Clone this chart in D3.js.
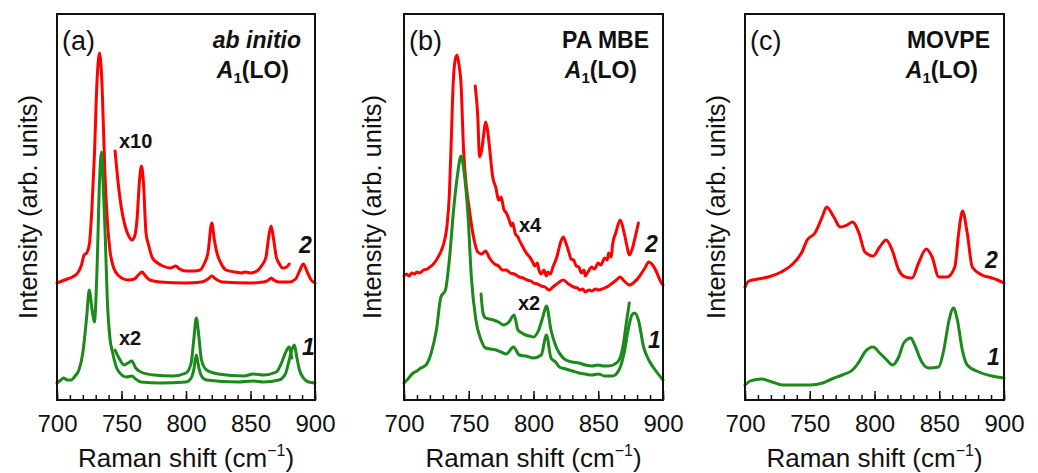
<!DOCTYPE html>
<html>
<head>
<meta charset="utf-8">
<script src="https://cdn.jsdelivr.net/npm/d3@7"></script>
<style>
  html, body { margin: 0; padding: 0; background: #fff; }
  svg { display: block; font-family: "Liberation Sans", Arial, sans-serif; }
</style>
</head>
<body>
<svg id="chart" width="1038" height="473"></svg>
<script>
// ---------------- DATA (Raman shift cm^-1, intensity arb. units) ----------------
const xTickLabels = [700, 750, 800, 850, 900];
const xMinorTicks = d3.range(700, 901, 10);
const xDomain = [700, 900];
const yDomain = [0, 386];

// Panel (a) ab initio
const aRed2 = [[700,117],[704,119],[708,121],[712,123],[716,127],[719,135],[721,145],[723,147],[725,155],[727,190],[729,245],[731,318],[733,347],[735,312],[737,232],[739,180],[741,150],[744,132],[748,124],[755,120],[760,121],[763,125],[766,128],[768,125],[772,120],[780,118],[800,117],[812,118],[817,121],[820,124],[823,121],[828,118],[850,117],[860,118],[864,120],[866,122],[868,120],[872,118],[880,118],[885,121],[888,129],[891,136],[894,128],[897,120],[900,117]];
const aRed2x10 = [[745,249],[747,222],[749,200],[753,173],[756,163],[758,160],[760,163],[762,180],[764,220],[765.5,234],[767,218],[769,167],[771,155],[774,142],[778,137],[782,134],[788,132],[792,134],[795,131],[800,129],[806,129],[811,130],[814,136],[817,147],[820,177],[822,160],[824,147],[827,137],[831,130],[838,128],[843,127],[846,128],[850,127],[856,130],[859,135],[862,143],[864,162],[866,174],[868,160],[870,143],[872,137],[875,132],[878,133],[880,136]];
const aGreen1 = [[700,17],[703,20],[705,22],[708,20],[711,20],[714,24],[717,30],[720,47],[723,83],[725,110],[727,92],[729,78],[731,130],[733,220],[734.5,248],[736,210],[737.5,160],[739,100],[741,62],[743,48],[747,30],[754,23],[758,24],[761,21],[765,18],[780,17],[800,18],[804,22],[806,30],[808,45],[810,32],[812,24],[816,20],[840,18],[852,19],[860,18],[872,20],[877,26],[880,40],[882,50],[884,55],[886,42],[888,30],[891,22],[895,18],[900,17]];
const aGreen1x2 = [[745,50],[748,42],[752,35],[755,37],[758,39],[761,32],[765,28],[775,25],[790,24],[800,27],[804,37],[806,60],[808,82],[810,63],[812,40],[816,30],[825,26],[845,24],[852,26],[860,25],[870,28],[874,37],[877,47],[880,53],[882,42]];

// Panel (b) PA MBE
const bRed2 = [[700,124],[702,126],[704,124],[706,127],[708,126],[710,128],[712,127],[715,130],[718,131],[720,133],[722,135],[725,140],[729,150],[731,158],[733,172],[735,205],[736.5,260],[738,317],[739.5,340],[741,345],[742.5,335],[744,317],[746,250],[748,215],[750,195],[753,168],[757,148],[760,146],[763,149],[766,142],[770,136],[773,134],[776,130],[779,130],[782,127],[785,126],[789,123],[792,122],[795,120],[798,119],[800,117],[803,116],[806,114],[809,113],[812,110],[815,113],[818,116],[823,120],[827,116],[831,113],[834,112],[836,110],[838,111],[840,108],[843,110],[845,109],[848,111],[850,110],[853,111],[855,112],[858,114],[860,116],[864,120],[867,123],[870,119],[874,115],[878,118],[882,124],[886,132],[889,138],[892,135],[895,128],[898,119],[900,115]];
const bRed2x4 = [[755,314],[757,283],[758.3,243],[760,250],[761.5,265],[763,278],[764.5,270],[766,253],[768.5,223],[771,212],[773,200],[775,203],[777,191],[779,187],[781,181],[783,174],[784,177],[786,166],[788,163],[789,160],[791,155],[793,150],[795,146],[797,143],[799,139],[801,134],[803,137],[804,131],[806,126],[808,130],[810,124],[811,128],[813,126],[815,133],[818,143],[821,158],[823,163],[825,157],[827.5,147],[829,141],[831,140],[833,134],[835,133],[837,127],[839,130],[840,124],[842,128],[845,133],[847,131],[850,137],[852,135],[855,142],[857,140],[858,147],[860,143],[861,155],[863.5,167],[867,180],[870,167],[872,155],[874,145],[876,150],[878,160],[881,177]];
const bGreen1 = [[700,17],[703,21],[707,27],[710,29],[713,32],[717,35],[721,47],[725,70],[728.5,103],[732,110],[735,140],[738.5,193],[741.5,227],[744,244],[746.5,227],[749.5,183],[752,123],[755.5,80],[759.5,60],[763,52],[767,51],[771,50],[775,48],[779,46],[784.5,53],[789,45],[794,44],[800,42],[806,45],[810,65],[813.5,42],[817,38],[820,33],[825,31],[830,29],[835,27],[840,26],[845,25],[850,26],[855,24],[861,24],[866,30],[870,47],[873.5,73],[876,85],[878,87],[881,80],[885,53],[889,40],[894,30],[900,20]];
const bGreen1x2 = [[759.5,106],[761,87],[763,82],[766,81],[769,80],[773,78],[777,75],[781,78],[785,85],[788,70],[791,67],[794,65],[797,64],[800,63],[804,70],[807,82],[810,94],[813.5,70],[817.5,53],[821,45],[825,40],[830,38],[835,37],[840,35],[845,34],[850,35],[854,34],[858,34],[865,38],[869,53],[872,80],[874,97]];

// Panel (c) MOVPE
const cRed2 = [[700,113],[703,119],[710,121],[718,123],[728,128],[736,135],[744,148],[748,160],[754,167],[759.6,183],[763,193],[768.6,183],[773.5,173],[778.8,175],[783,178],[788,167],[792.6,148],[799,144],[804,153],[809,160],[813.6,150],[818.7,130],[823.9,123],[829,122],[834,137],[840,151],[844.5,143],[849.6,123],[856,123],[862,133],[865,167],[868,189],[871.6,167],[875.5,133],[883,125],[890.7,122],[895,120],[900,117]];
const cGreen1 = [[700,15],[704,19],[707,20],[713,21],[721,18],[729,15],[740,15],[750,15],[760,17],[767,21],[775,25],[783,30],[788,38],[792.6,48],[799,53],[804,47],[809.5,40],[814,35],[818.7,43],[822.6,57],[828,62],[831,55],[836.5,38],[842,32],[849.6,33],[853.5,50],[857.6,80],[861,92],[864,80],[867.8,50],[871.6,35],[880.6,28],[890.7,24],[900,22]];

// ---------------- LAYOUT / STYLE ----------------
const RED = "#ff0000", GREEN = "#1a8a1a";
const plotTop = 14, plotBottom = 400;
const panels = [
  { left: 57, right: 315, yLabelX: 37, tag: "(a)", title: "ab initio", titleItalic: true,
    series: [[aRed2, RED], [aRed2x10, RED], [aGreen1, GREEN], [aGreen1x2, GREEN]],
    notes: [["x10", 119, 148], ["x2", 119, 345]],
    nums: [["2", 299, 253], ["1", 302, 355]] },
  { left: 404, right: 663, yLabelX: 381, tag: "(b)", title: "PA MBE", titleItalic: false,
    series: [[bRed2, RED], [bRed2x4, RED], [bGreen1, GREEN], [bGreen1x2, GREEN]],
    notes: [["x4", 519, 232], ["x2", 518, 310]],
    nums: [["2", 645, 252], ["1", 648, 348]] },
  { left: 745, right: 1004, yLabelX: 725, tag: "(c)", title: "MOVPE", titleItalic: false,
    series: [[cRed2, RED], [cGreen1, GREEN]],
    notes: [],
    nums: [["2", 985, 268], ["1", 987, 365]] }
];

const svg = d3.select("#chart");

panels.forEach(p => {
  const x = d3.scaleLinear().domain(xDomain).range([p.left, p.right]);
  const y = d3.scaleLinear().domain(yDomain).range([plotBottom, plotTop]);
  const g = svg.append("g");

  // curves
  const line = d3.line().x(d => x(d[0])).y(d => y(d[1])).curve(d3.curveMonotoneX);
  p.series.forEach(([data, color]) => {
    g.append("path").datum(data)
      .attr("d", line)
      .attr("fill", "none")
      .attr("stroke", color)
      .attr("stroke-width", 3)
      .attr("stroke-linejoin", "round")
      .attr("stroke-linecap", "round");
  });

  // minor ticks
  const minor = g.append("g").attr("transform", `translate(0,${plotBottom})`)
    .call(d3.axisBottom(x).tickValues(xMinorTicks).tickSize(-5).tickFormat(""));
  minor.select(".domain").remove();
  minor.selectAll("line").attr("stroke", "#111").attr("stroke-width", 1.5);

  // major ticks + labels
  const major = g.append("g").attr("transform", `translate(0,${plotBottom})`)
    .call(d3.axisBottom(x).tickValues(xTickLabels).tickSize(-9).tickPadding(15).tickFormat(d3.format("d")));
  major.select(".domain").remove();
  major.selectAll("line").attr("stroke", "#111").attr("stroke-width", 1.5);
  major.selectAll("text").attr("font-size", 24).attr("fill", "#111")
    .attr("font-family", "Liberation Sans, Arial, sans-serif");

  // frame
  g.append("rect")
    .attr("x", p.left).attr("y", plotTop)
    .attr("width", p.right - p.left).attr("height", plotBottom - plotTop)
    .attr("fill", "none").attr("stroke", "#111").attr("stroke-width", 2);

  // x title
  const xt = g.append("text")
    .attr("x", (p.left + p.right) / 2).attr("y", 467)
    .attr("text-anchor", "middle").attr("font-size", 26).attr("fill", "#111");
  xt.append("tspan").text("Raman shift (cm");
  xt.append("tspan").attr("font-size", 16).attr("dy", -11).text("\u22121");
  xt.append("tspan").attr("dy", 11).text(")");

  // y title
  g.append("text")
    .attr("transform", `translate(${p.yLabelX},${(plotTop + plotBottom) / 2}) rotate(-90)`)
    .attr("text-anchor", "middle").attr("font-size", 25.5).attr("fill", "#111")
    .text("Intensity (arb. units)");

  // panel tag
  g.append("text").attr("x", p.left + 5).attr("y", 50)
    .attr("font-size", 27).attr("fill", "#111").text(p.tag);

  // title
  g.append("text").attr("x", p.right - 14).attr("y", 48)
    .attr("text-anchor", "end").attr("font-size", 23).attr("font-weight", "bold")
    .attr("font-style", p.titleItalic ? "italic" : "normal").attr("fill", "#111")
    .text(p.title);

  // A1(LO)
  const a1 = g.append("text").attr("x", p.right - 26).attr("y", 78)
    .attr("text-anchor", "end").attr("font-size", 23).attr("font-weight", "bold").attr("fill", "#111");
  a1.append("tspan").attr("font-style", "italic").text("A");
  a1.append("tspan").attr("font-size", 15).attr("dy", 5).text("1");
  a1.append("tspan").attr("dy", -5).text("(LO)");

  // multiplier notes
  p.notes.forEach(([t, nx, ny]) => {
    g.append("text").attr("x", nx).attr("y", ny)
      .attr("font-size", 20).attr("font-weight", "bold").attr("fill", "#111").text(t);
  });

  // curve numbers
  p.nums.forEach(([t, nx, ny]) => {
    g.append("text").attr("x", nx).attr("y", ny)
      .attr("font-size", 23).attr("font-weight", "bold").attr("font-style", "italic")
      .attr("fill", "#111").text(t);
  });
});
</script>
</body>
</html>
